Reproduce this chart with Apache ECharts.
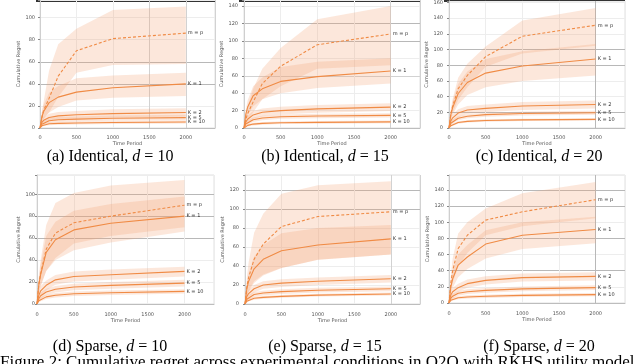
<!DOCTYPE html>
<html>
<head>
<meta charset="utf-8">
<script src="https://cdn.jsdelivr.net/npm/echarts@6/dist/echarts.min.js"></script>
<style>
html, body { margin: 0; padding: 0; background: #fff; }
#chart { width: 640px; height: 364px; }
</style>
</head>
<body>
<div id="chart"></div>
<script>
var timePoints = [0, 25, 50, 125, 250, 500, 1000, 2000];
var curveNames = ['m = p', 'K = 1', 'K = 2', 'K = 5', 'K = 10'];
var xTickValues = [0, 500, 1000, 1500, 2000];
var captionTexts = ['(a) Identical', '(b) Identical', '(c) Identical', '(d) Sparse', '(e) Sparse', '(f) Sparse'];
var captionD = [10, 15, 20, 10, 15, 20];
var footText = 'Figure 2: Cumulative regret across experimental conditions in O2O with RKHS utility model';

// (a) identical, d = 10  (rows: m=p, K=1, K=2, K=5, K=10)
var identical10Mean = [[0, 9, 16, 27, 47, 70, 81, 86], [0, 10, 15, 23, 28, 32.5, 36.5, 40], [0, 5, 7, 9.5, 11, 12, 13, 14], [0, 3.5, 5, 6.5, 7.5, 8, 8.8, 9.4], [0, 2, 3, 3.8, 4.2, 4.5, 5, 5.4]];
var identical10Lo = [[0, 4, 8, 14, 28, 50, 57, 58], [0, 6, 9, 14, 19, 25, 27.5, 29], [0, 3, 4.5, 6.5, 8, 8.5, 9.5, 10.5], [0, 2, 3, 4.5, 5.5, 6, 6.5, 7], [0, 1, 1.8, 2.5, 3, 3.2, 3.6, 4]];
var identical10Hi = [[1, 14, 24, 52, 76, 90, 107, 110], [0, 14, 21, 32, 38, 45, 47.5, 50], [0, 7, 9.5, 13, 14.5, 15.5, 17, 18], [0, 5, 7, 9, 10, 10.5, 11.3, 12], [0, 3, 4.2, 5.1, 5.5, 5.8, 6.4, 6.8]];

// (b) identical, d = 15
var identical15Mean = [[0, 10, 16.5, 30, 51, 71, 95.6, 108], [0, 16, 24, 37, 45, 53.5, 59, 65.4], [0, 7, 10, 15, 18, 20, 22, 24], [0, 4.5, 6.5, 9.5, 11.5, 13, 13.8, 14.5], [0, 2, 3, 4.5, 5.3, 6, 6.5, 7]];
var identical15Lo = [[0, 5, 9, 18, 33, 48, 68, 72], [0, 10, 15, 25, 33, 40, 46, 51], [0, 4, 6, 10.5, 13.5, 15.5, 17.5, 19.5], [0, 2.5, 4, 7, 9, 10.5, 11.3, 12], [0, 1, 1.7, 3, 3.8, 4.5, 5, 5.5]];
var identical15Hi = [[1, 16, 25, 45, 68, 92, 125, 140], [0, 21, 32, 48, 58, 70, 76, 80], [0, 10, 14, 19.5, 22.5, 24.5, 26.5, 28.5], [0, 6.5, 9, 12, 14, 15.5, 16.3, 17], [0, 3, 4.3, 6, 6.8, 7.5, 8, 8.5]];

// (c) identical, d = 20
var identical20Mean = [[0, 18, 28, 50, 67, 91, 117, 131], [0, 17, 26, 44, 58, 70, 79, 88], [0, 9, 13, 19, 23, 25, 28, 30], [0, 6, 8.5, 12.5, 15, 17, 18.5, 19.4], [0, 3, 4.5, 7, 8.5, 9.5, 10.3, 11]];
var identical20Lo = [[0, 12, 19, 36, 52, 78, 95, 105], [0, 11, 17, 30, 42, 52, 60, 67], [0, 5, 8.5, 14, 18, 20, 23, 25], [0, 3.5, 6, 10, 12.5, 14.5, 16, 17], [0, 1.5, 3, 5.5, 7, 8, 8.8, 9.5]];
var identical20Hi = [[1, 24, 37, 64, 82, 104, 137, 153], [0, 22, 34, 56, 72, 88, 98, 107], [0, 13, 17.5, 24, 28, 30, 33, 35], [0, 8.5, 11, 15, 17.5, 19.5, 21, 22], [0, 4.5, 6, 8.5, 10, 11, 11.8, 12.5]];

// (d) sparse, d = 10
var sparse10Mean = [[0, 18, 28, 50, 64.5, 74, 80, 90], [0, 18, 27, 47, 58.5, 67.5, 73.6, 80], [0, 8, 12, 17, 22, 25, 26.7, 29.7], [0, 5, 7.5, 11, 13.5, 15.5, 17, 19], [0, 3, 4.5, 6.5, 8, 9.4, 10.3, 11.5]];
var sparse10Lo = [[0, 10, 16, 30, 42, 55, 62, 70], [0, 11, 17, 30, 40, 49, 56, 66], [0, 4, 7.5, 12.5, 17.5, 20.5, 22, 25], [0, 2.5, 4.5, 8, 10.5, 12.5, 14, 16], [0, 1.5, 2.5, 4.5, 6, 7.4, 8.3, 9.5]];
var sparse10Hi = [[1, 26, 40, 72, 92, 101, 108, 113], [0, 24, 36, 62, 75, 85, 91, 98], [0, 12, 16.5, 21.5, 26.5, 29.5, 31.5, 34], [0, 7.5, 10.5, 14, 16.5, 18.5, 20, 22], [0, 4.5, 6.5, 8.5, 10, 11.4, 12.3, 13.5]];

// (e) sparse, d = 15
var sparse15Mean = [[0, 18, 28, 47, 63, 81.5, 92, 97], [0, 16, 24, 37, 47, 56, 62, 68.5], [0, 8, 11, 16, 20, 22, 24, 26.5], [0, 5, 7, 10, 11.5, 13, 14.5, 16], [0, 3, 4.5, 6, 7, 8, 9.3, 10.5]];
var sparse15Lo = [[0, 8, 13, 22, 30, 38, 46.5, 52], [0, 9, 14, 24, 31, 38, 46.5, 52], [0, 4, 7, 12, 16, 18, 20, 22.5], [0, 2.5, 4.5, 7.5, 9, 10.5, 12, 13.5], [0, 1.5, 3, 4.5, 5.5, 6.5, 7.8, 9]];
var sparse15Hi = [[1, 28, 44, 75, 95, 116, 125, 129], [0, 22, 32, 50, 62, 74.5, 80, 83], [0, 12, 15, 20, 24, 26, 28, 30.5], [0, 7.5, 9.5, 12.5, 14, 15.5, 17, 18.5], [0, 4.5, 6, 7.5, 8.5, 9.5, 10.8, 12]];

// (f) sparse, d = 20
var sparse20Mean = [[0, 25, 40, 67.5, 84, 102.7, 113, 128], [0, 20, 30, 47, 57, 73, 84, 91], [0, 10, 14, 19, 24, 28, 31.5, 33], [0, 6, 8.5, 12, 14, 15.7, 17.5, 19], [0, 3.5, 5, 6.5, 7.5, 8.3, 9.5, 10.4]];
var sparse20Lo = [[0, 15, 25, 45, 62, 84, 95, 105], [0, 12, 19, 32, 42, 55, 67, 74], [0, 5, 9, 14, 19, 23, 26.5, 28], [0, 3, 5.5, 9, 11, 12.7, 14.5, 16], [0, 1.5, 3, 4.5, 5.5, 6.3, 7.5, 8.4]];
var sparse20Hi = [[1, 34, 55, 86, 100, 117, 136, 150], [0, 27, 40, 60, 72, 90, 100, 107], [0, 15, 19, 24, 29, 33, 36.5, 38], [0, 9, 11.5, 15, 17, 18.7, 20.5, 22], [0, 5.5, 7, 8.5, 9.5, 10.3, 11.5, 12.4]];

var L = '#ededed', M = '#d2d2d2', D = '#b8b8b8';
var panels = [
    {mean: identical10Mean, lo: identical10Lo, hi: identical10Hi, left: 40, top: 0, width: 175, height: 128, ymax: 116, yOff: 3, xOff: 4,
     yGrid: [M, L, D, D, L, L, L], xGrid: [L, L, L, M, M, M]},
    {mean: identical15Mean, lo: identical15Lo, hi: identical15Hi, left: 244, top: 0, width: 176, height: 128, ymax: 147, yOff: 4, xOff: 4,
     yGrid: [M, L, L, M, L, D, D, L, L], xGrid: [L, L, L, L, M, M]},
    {mean: identical20Mean, lo: identical20Lo, hi: identical20Hi, left: 449, top: 0, width: 176, height: 128, ymax: 162, yOff: 4, xOff: 4,
     yGrid: [M, D, L, L, D, D, L, L, L, L], xGrid: [L, L, L, L, D, L]},
    {mean: sparse10Mean, lo: sparse10Lo, hi: sparse10Hi, left: 37, top: 175, width: 177, height: 129, ymax: 117.5, yOff: 0, xOff: 5,
     yGrid: [L, L, L, D, D, D, L], xGrid: [L, L, L, L, L, L]},
    {mean: sparse15Mean, lo: sparse15Lo, hi: sparse15Hi, left: 245, top: 175, width: 175, height: 129, ymax: 135.7, yOff: 4, xOff: 5,
     yGrid: [L, L, L, L, L, D, D, L], xGrid: [L, L, L, L, M, M]},
    {mean: sparse20Mean, lo: sparse20Lo, hi: sparse20Hi, left: 449, top: 175, width: 176, height: 128, ymax: 158.6, yOff: 3, xOff: 5,
     yGrid: [L, L, D, L, D, L, D, D, L], xGrid: [L, L, L, L, D, L]}
];

var lineColor = '#f08b45';
var bandColor = 'rgba(245,160,110,0.25)';
var smallFont = 'DejaVu Sans';

function pairs(vals) {
    return timePoints.map(function (t, i) { return [t, vals[i]]; });
}

// shaded band between lo and hi, drawn through the axis scales
function bandSeries(k, lo, hi) {
    return {
        type: 'custom', xAxisIndex: k, yAxisIndex: k, silent: true, clip: true, z: 1,
        data: [[0, 0]],
        renderItem: function (params, api) {
            var pts = [];
            for (var i = 0; i < timePoints.length; i++) pts.push(api.coord([timePoints[i], hi[i]]));
            for (var i = timePoints.length - 1; i >= 0; i--) pts.push(api.coord([timePoints[i], lo[i]]));
            return {type: 'polygon', shape: {points: pts}, style: {fill: bandColor}};
        }
    };
}

var option = {animation: false, grid: [], xAxis: [], yAxis: [], series: [], graphic: []};

panels.forEach(function (p, k) {
    option.grid.push({left: p.left, top: p.top, width: p.width, height: p.height,
        show: true, borderColor: '#e0e0e0', borderWidth: 1});
    option.xAxis.push({
        type: 'value', gridIndex: k, min: 0, max: 2400, interval: 500, offset: p.xOff,
        axisLine: {show: true, lineStyle: {color: '#bdbdbd', width: 1}},
        axisTick: {show: false},
        axisLabel: {fontSize: 5, color: '#555', margin: 3, fontFamily: smallFont,
            formatter: function (v) { return xTickValues.indexOf(v) >= 0 ? String(v) : ''; }},
        splitLine: {show: true, lineStyle: {color: p.xGrid, width: 1}},
        name: 'Time Period', nameLocation: 'middle', nameGap: 9,
        nameTextStyle: {fontSize: 5, color: '#555', fontFamily: smallFont}
    });
    option.yAxis.push({
        type: 'value', gridIndex: k, min: 0, max: p.ymax, interval: 20, offset: p.yOff,
        axisLine: {show: true, lineStyle: {color: '#cfcfcf', width: 1}},
        axisTick: {show: true, length: 2, lineStyle: {color: '#888'}},
        axisLabel: {fontSize: 5, color: '#555', margin: 2, fontFamily: smallFont,
            formatter: function (v) { return v % 20 === 0 ? String(v) : ''; }},
        splitLine: {show: true, lineStyle: {color: p.yGrid, width: 1}},
        name: 'Cumulative Regret', nameLocation: 'middle', nameGap: 12, nameRotate: 90,
        nameTextStyle: {fontSize: 5, color: '#555', fontFamily: smallFont}
    });
    for (var j = 0; j < curveNames.length; j++) {
        option.series.push(bandSeries(k, p.lo[j], p.hi[j]));
    }
    for (var j = 0; j < curveNames.length; j++) {
        option.series.push({type: 'line', name: curveNames[j], xAxisIndex: k, yAxisIndex: k,
            symbol: 'none', silent: true, data: pairs(p.mean[j]), z: 3,
            lineStyle: {color: lineColor, width: 1.1, type: j === 0 ? [3, 2] : 'solid'},
            endLabel: {show: true, fontSize: 5, color: '#333', distance: 2, fontFamily: smallFont,
                formatter: function (q) { return q.seriesName; }}
        });
    }
    // caption under each panel
    var cx = [110, 325, 539][k % 3];
    var cy = k < 3 ? 157 : 347;
    option.graphic.push({type: 'text', x: cx, y: cy, style: {
        text: captionTexts[k] + ', {i|d} = ' + captionD[k],
        font: '16px "Liberation Serif"', fill: '#000', align: 'center', verticalAlign: 'middle',
        rich: {i: {fontStyle: 'italic', fontFamily: 'Liberation Serif', fontSize: 16}}
    }});
    if (k < 3) {
        option.graphic.push({type: 'rect', shape: {x: p.left - p.yOff - 1, y: 0, width: p.width + p.yOff + 1, height: 2},
            style: {fill: '#333'}});
    }
});

option.graphic.push({type: 'text', x: 0, y: 354, style: {
    text: footText, font: '17px "Liberation Serif"', fill: '#000', align: 'left', verticalAlign: 'top'
}});

var chart = echarts.init(document.getElementById('chart'), null, {renderer: 'canvas'});
chart.setOption(option);
</script>
</body>
</html>
